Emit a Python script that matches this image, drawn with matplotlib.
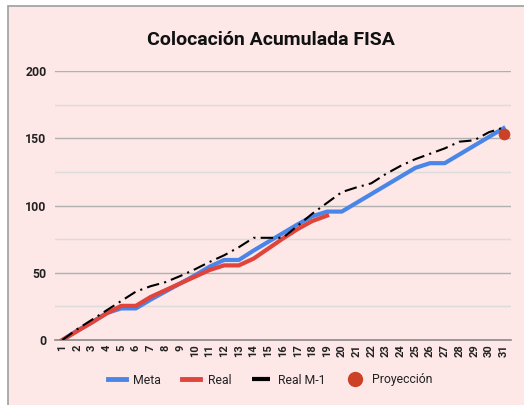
import matplotlib.pyplot as plt
from matplotlib.patches import Rectangle
from matplotlib.lines import Line2D
import numpy as np

# Datos
dias = list(range(1, 32))
meta = [0, 7, 13, 20, 23.5, 23.5, 30, 36, 42, 48, 54.5, 59.5, 59.5, 66.5, 73,
        79.5, 86, 92, 95.5, 95.5, 102, 108.5, 115, 121.5, 128, 131.5, 131.5,
        138, 144.5, 151, 157.5]
real = [0, 6.5, 13, 19.7, 25.4, 25.4, 32, 37, 42, 47, 52, 55.5, 55.5, 60.5,
        68, 75.5, 82.5, 88.5, 92.5]
real_m1 = [0, 8, 15, 22, 29, 36, 40, 43, 47.5, 52.5, 58, 63, 69, 76, 76, 76,
           85, 94, 102, 110, 113.5, 116.5, 123.5, 129.5, 134.5, 138.5, 142.5,
           147.5, 148.5, 154.5, 158]
proy_dia = [31]
proy_valor = [153]

plt.rcParams['font.family'] = ['Roboto', 'DejaVu Sans']

ROSA = '#fde7e7'
AZUL = '#4a86e8'
ROJO = '#e0443a'
NARANJA = '#cc4125'

fig = plt.figure(figsize=(5.24, 4.05), dpi=100)
fig.patch.set_facecolor('white')
fig.patches.append(Rectangle((8 / 524, -0.01), 1.0, 1 - 6 / 405 + 0.01,
                             transform=fig.transFigure, facecolor=ROSA,
                             edgecolor='#9e9e9e', linewidth=1.2, zorder=-10))

ax = fig.add_axes([0.105, 0.1605, 0.87, 0.664])
ax.set_facecolor(ROSA)

x_real = dias[:len(real)]
ax.plot(dias, meta, color=AZUL, lw=3, solid_joinstyle='round', zorder=3)
ax.plot(x_real, real, color=ROJO, lw=3, solid_joinstyle='round', zorder=4)
ax.plot(dias, real_m1, color='black', lw=1.5,
        linestyle=(0, (6, 2.5, 1, 2.5)), zorder=5)
ax.scatter(proy_dia, proy_valor, s=55, color=NARANJA, zorder=6)

ax.set_xlim(0.5, 31.5)
ax.set_ylim(0, 200)
ax.set_xticks(dias)
ax.set_xticklabels([str(d) for d in dias], rotation=90, fontsize=8,
                   fontweight='bold', color='#222222')
ax.set_yticks([0, 50, 100, 150, 200])
ax.set_yticklabels(['0', '50', '100', '150', '200'], fontsize=8.8,
                   fontweight='bold', color='#222222')
ax.set_yticks([25, 75, 125, 175], minor=True)
ax.tick_params(axis='both', which='both', length=0)
ax.tick_params(axis='y', pad=6)
ax.tick_params(axis='x', pad=3)
ax.grid(axis='y', which='major', color='#b0b0b0', lw=1)
ax.grid(axis='y', which='minor', color='#dcdcdc', lw=1)
ax.set_axisbelow(True)
for lado in ['left', 'right', 'top']:
    ax.spines[lado].set_visible(False)
ax.spines['bottom'].set_color('#8a8a8a')
ax.spines['bottom'].set_linewidth(1.2)

fig.text(271 / 524, 1 - 40 / 405, 'Colocación Acumulada FISA', ha='center',
         va='center', fontsize=14, fontweight='bold', color='#111111')

handles = [
    Line2D([], [], color=AZUL, lw=3.5),
    Line2D([], [], color=ROJO, lw=3.5),
    Line2D([], [], color='black', lw=3, linestyle=(0, (6, 2, 1, 2))),
    Line2D([], [], color=NARANJA, marker='o', markersize=10, linestyle='none'),
]
fig.legend(handles, ['Meta', 'Real', 'Real M-1', 'Proyección'],
           loc='center', bbox_to_anchor=(270 / 524, 1 - 380 / 405), ncol=4,
           frameon=False, fontsize=8.8, handlelength=1.5, columnspacing=1.7,
           handletextpad=0.6, labelcolor='#222222')

fig.savefig('out.png', dpi=100, facecolor=fig.get_facecolor())
